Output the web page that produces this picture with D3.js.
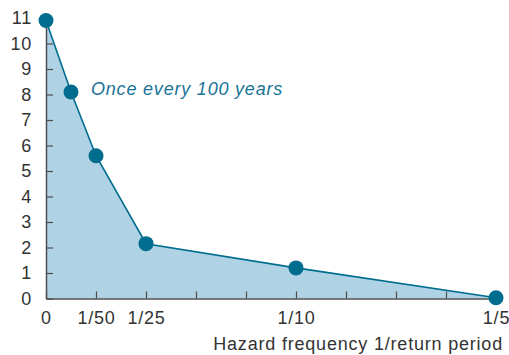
<!DOCTYPE html>
<html><head><meta charset="utf-8">
<script src="https://cdn.jsdelivr.net/npm/d3@7"></script>
<style>body{margin:0;background:#fff}svg{display:block}</style>
</head><body>
<svg id="c" width="509" height="355"></svg>
<script>
const freq = [0, 0.01, 0.02, 0.04, 0.1, 0.2];
const loss = [10.9, 8.1, 5.6, 2.15, 1.2, 0.03];
const xTickValues = [0, 0.02, 0.04, 0.06, 0.08, 0.1, 0.125, 0.15, 0.175, 0.2];
const xTickLabels = {0: "0", 0.02: "1/50", 0.04: "1/25", 0.1: "1/10", 0.2: "1/5"};
const yTickValues = [0,1,2,3,4,5,6,7,8,9,10,11];
const annotation = "Once every 100 years";
const xTitle = "Hazard frequency 1/return period";

const svg = d3.select("#c");
// axis in the original is compressed between 1/10 and 1/5
const x = d3.scaleLinear().domain([0, 0.1, 0.2]).range([46, 296, 496]);
const y = d3.scaleLinear().domain([0, 11]).range([298.5, 18]);
const data = freq.map((f,i)=>({f, v: loss[i]}));

svg.append("path").datum(data)
  .attr("d", d3.area().x(d=>x(d.f)).y0(y(0)).y1(d=>y(d.v)))
  .attr("fill", "#afd3e4");

const axisColor = "#4d4d4d";
const font = "'Liberation Sans', Arial, sans-serif";
const fs = 18, ls = 0.8;

const xa = svg.append("g").attr("transform", `translate(0,${y(0)})`)
  .call(d3.axisBottom(x).tickValues(xTickValues).tickSize(-7).tickSizeOuter(0)
    .tickFormat(d => { const k = Object.keys(xTickLabels).find(kk => Math.abs(+kk - d) < 1e-9); return k !== undefined ? xTickLabels[k] : ""; }));
xa.select(".domain").attr("stroke", axisColor).attr("stroke-width", 1.5);
xa.selectAll(".tick line").attr("stroke", axisColor).attr("stroke-width", 1.2);
xa.selectAll(".tick text").attr("fill", "#333").attr("font-size", fs).attr("letter-spacing", ls)
  .attr("font-family", font).attr("y", 13);

const ya = svg.append("g").attr("transform", `translate(${x(0)},0)`)
  .call(d3.axisLeft(y).tickValues(yTickValues).tickSize(-7).tickSizeOuter(0));
ya.select(".domain").attr("stroke", axisColor).attr("stroke-width", 1.5);
ya.selectAll(".tick line").attr("stroke", axisColor).attr("stroke-width", 1.2);
ya.selectAll(".tick text").attr("fill", "#333").attr("font-size", fs).attr("letter-spacing", ls)
  .attr("font-family", font).attr("x", -14);

svg.append("path").datum(data)
  .attr("d", d3.line().x(d=>x(d.f)).y(d=>y(d.v)))
  .attr("fill", "none").attr("stroke", "#006d8f").attr("stroke-width", 1.6);

svg.selectAll("circle.pt").data(data).enter().append("circle")
  .attr("class","pt").attr("cx", d=>x(d.f)).attr("cy", d=>y(d.v)).attr("r", 7.5)
  .attr("fill", "#006d8f");

svg.append("text").attr("x", 91).attr("y", 95)
  .attr("font-family", font).attr("font-style", "italic").attr("font-size", fs).attr("letter-spacing", ls)
  .attr("fill", "#1a7497").text(annotation);

svg.append("text").attr("x", 503).attr("y", 350).attr("text-anchor", "end")
  .attr("font-family", font).attr("font-size", fs).attr("letter-spacing", ls).attr("fill", "#333").text(xTitle);
</script>
</body></html>
